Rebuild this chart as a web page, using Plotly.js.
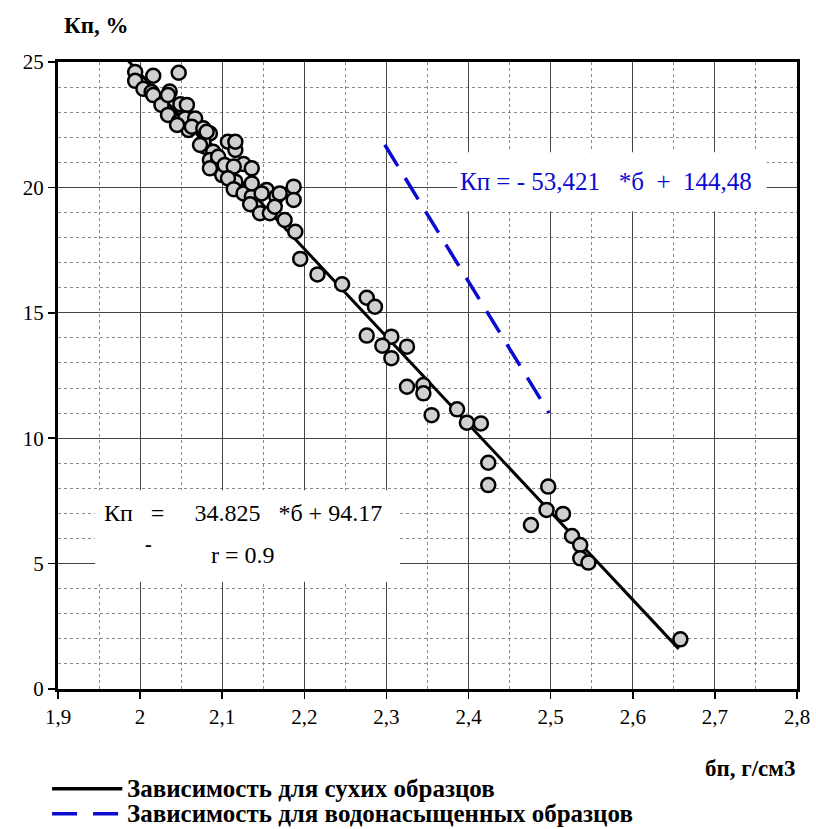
<!DOCTYPE html>
<html>
<head>
<meta charset="utf-8">
<script src="https://cdn.plot.ly/plotly-3.0.1.min.js"></script>
<style>html,body{margin:0;padding:0;background:#fff;}#chart{width:816px;height:829px;}</style>
</head>
<body>
<div id="chart"></div>
<script>
// Measured samples: density (g/cm3) and porosity (%)
const sampleDensity = [
  1.994, 1.994, 2.016, 2.047, 2.004, 2.014, 2.016, 2.026, 2.036, 2.034,
  2.034, 2.049, 2.057, 2.047, 2.055, 2.067, 2.059, 2.045, 2.063, 2.077,
  2.085, 2.079, 2.077, 2.089, 2.107, 2.116, 2.085, 2.095, 2.095, 2.126,
  2.136, 2.100, 2.085, 2.103, 2.114, 2.116, 2.107, 2.114, 2.126, 2.136,
  2.136, 2.154, 2.166, 2.148, 2.170, 2.187, 2.187, 2.134, 2.146, 2.158,
  2.164, 2.176, 2.189, 2.116, 2.081, 2.073,
  2.195, 2.216, 2.246, 2.276, 2.286, 2.276, 2.306, 2.295, 2.325, 2.306,
  2.325, 2.345, 2.345, 2.355, 2.386, 2.398, 2.415, 2.424, 2.424, 2.497,
  2.495, 2.515, 2.476, 2.526, 2.536, 2.536, 2.546, 2.658
];
const samplePorosity = [
  24.60, 24.25, 24.45, 24.57, 23.93, 23.80, 23.68, 23.29, 23.82, 23.68,
  22.89, 23.32, 23.29, 22.62, 22.75, 22.75, 22.29, 22.49, 22.42, 22.36,
  22.15, 21.62, 21.82, 21.42, 21.82, 21.49, 21.09, 21.02, 21.22, 20.93,
  20.76, 20.49, 20.76, 20.89, 20.83, 20.23, 20.36, 19.93, 19.76, 19.63,
  20.16, 19.90, 19.63, 19.76, 19.76, 20.03, 19.50, 19.33, 18.97, 18.97,
  19.23, 18.70, 18.23, 21.82, 22.22, 21.69,
  17.15, 16.53, 16.14, 15.60, 15.24, 14.09, 14.05, 13.69, 13.65, 13.19,
  12.05, 12.12, 11.79, 10.92, 11.15, 10.62, 10.59, 9.02, 8.13, 8.07,
  7.14, 6.98, 6.54, 6.10, 5.74, 5.21, 5.04, 1.98
];
// Trend line endpoints
const dryLineX = [1.984, 2.656];
const dryLineY = [25.1, 1.6];
const wetLineX = [2.298, 2.498];
const wetLineY = [21.7, 11.0];

const seriesNames = ["Зависимость для сухих образцов", "Зависимость для водонасыщенных образцов"];
const xTickVals = [1.9, 2.0, 2.1, 2.2, 2.3, 2.4, 2.5, 2.6, 2.7, 2.8];
const xTickText = ["1,9", "2", "2,1", "2,2", "2,3", "2,4", "2,5", "2,6", "2,7", "2,8"];
const yTickVals = [0, 5, 10, 15, 20, 25];
const yTickText = ["0", "5", "10", "15", "20", "25"];

const FONT = "Liberation Serif";
const BLUE = "#0a0ad2";

const traces = [
  {x: dryLineX, y: dryLineY, mode: "lines", name: seriesNames[0],
   line: {color: "#000", width: 3}, showlegend: false, hoverinfo: "skip"},
  {x: wetLineX, y: wetLineY, mode: "lines", name: seriesNames[1],
   line: {color: BLUE, width: 3.5, dash: "25px,14px"}, showlegend: false, hoverinfo: "skip"},
  {x: sampleDensity, y: samplePorosity, mode: "markers", name: "samples",
   marker: {size: 14, color: "#d0d0d0", line: {color: "#000", width: 2.5}}, showlegend: false}
];

const axisCommon = {
  showline: true, linecolor: "#000", linewidth: 3, mirror: true,
  ticks: "outside", ticklen: 7, tickwidth: 1.5, tickcolor: "#000",
  showgrid: true, gridcolor: "#444", gridwidth: 1,
  zeroline: false, tickfont: {family: FONT, size: 21, color: "#000"},
  tickmode: "array", fixedrange: true
};

function ann(text, x, y, size, color, extra) {
  return Object.assign({text: text, xref: "paper", yref: "paper", x: x, y: y, showarrow: false,
    xanchor: "center", yanchor: "middle", font: {family: FONT, size: size, color: color}}, extra || {});
}

const layout = {
  width: 816, height: 829,
  margin: {l: 58, r: 19, t: 62, b: 140},
  paper_bgcolor: "#fff", plot_bgcolor: "#fff",
  font: {family: FONT, color: "#000"},
  showlegend: false,
  xaxis: Object.assign({}, axisCommon, {
    range: [1.9, 2.8], tickvals: xTickVals, ticktext: xTickText,
    minor: {tickmode: "linear", tick0: 1.9, dtick: 0.05, showgrid: true, griddash: "dot", gridcolor: "#8a8a8a", gridwidth: 1, ticks: ""}
  }),
  yaxis: Object.assign({}, axisCommon, {
    range: [0, 25], tickvals: yTickVals, ticktext: yTickText,
    minor: {tickmode: "linear", tick0: 0, dtick: 1, showgrid: true, griddash: "dot", gridcolor: "#8a8a8a", gridwidth: 1, ticks: ""}
  }),
  shapes: [
    {type: "rect", xref: "paper", yref: "paper", x0: 0.050, x1: 0.463, y0: 0.171, y1: 0.317,
     fillcolor: "#fff", line: {width: 0}, layer: "above"},
    {type: "rect", xref: "paper", yref: "paper", x0: 0.540, x1: 0.959, y0: 0.762, y1: 0.856,
     fillcolor: "#fff", line: {width: 0}, layer: "above"},
    {type: "line", xref: "paper", yref: "paper", x0: -0.008, x1: 0.087, y0: -0.159, y1: -0.159,
     line: {color: "#000", width: 3.5}},
    {type: "line", xref: "paper", yref: "paper", x0: -0.008, x1: 0.087, y0: -0.199, y1: -0.199,
     line: {color: BLUE, width: 3.5, dash: "25px,16px"}}
  ],
  annotations: [
    ann("<b>Кп, %</b>", 0.051, 1.059, 23, "#000"),
    ann("<b>бп, г/см3</b>", 0.936, -0.126, 23, "#000"),
    ann("Кп&nbsp;&nbsp;&nbsp;=&nbsp;&nbsp;&nbsp;&nbsp;&nbsp;34.825&nbsp;&nbsp;&nbsp;*б + 94.17", 0.250, 0.281, 24, "#000"),
    ann("<b>-</b>", 0.122, 0.232, 20, "#000"),
    ann("r = 0.9", 0.250, 0.214, 24, "#000"),
    ann("Кп = - 53,421&nbsp;&nbsp;&nbsp;*б&nbsp;&nbsp;+&nbsp;&nbsp;144,48", 0.742, 0.810, 25, BLUE),
    ann("<b>" + seriesNames[0] + "</b>", 0.0907, -0.159, 25, "#000", {xanchor: "left"}),
    ann("<b>" + seriesNames[1] + "</b>", 0.0907, -0.199, 25, "#000", {xanchor: "left"})
  ]
};

Plotly.newPlot("chart", traces, layout, {displayModeBar: false, staticPlot: true});
</script>
</body>
</html>
